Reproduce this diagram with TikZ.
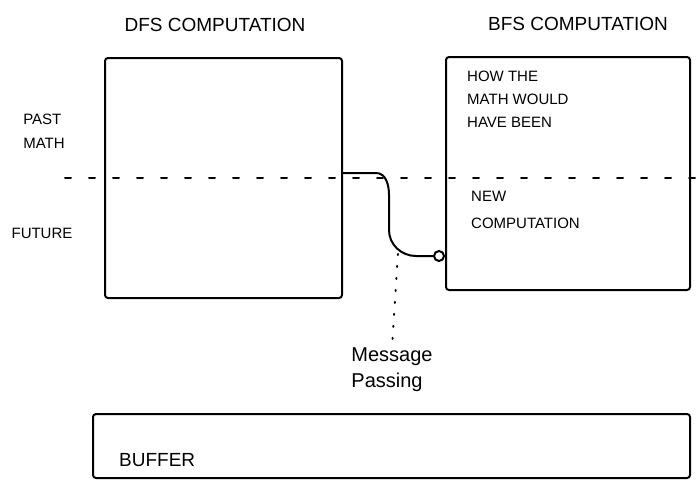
\documentclass[tikz,border=0pt]{standalone}
\usepackage{fontspec}
\setmainfont{Liberation Sans}
\usetikzlibrary{arrows.meta}
\begin{document}
\begin{tikzpicture}[x=1pt,y=-1pt,
  ink/.style={line width=2pt,line cap=round,line join=round},
  boxnode/.style={ink,draw,inner sep=0pt,rounded corners=3pt},
  lbl/.style={font=\fontsize{15}{18}\selectfont,inner sep=1pt},
  ttl/.style={font=\fontsize{19}{22}\selectfont,inner sep=1pt},
  sep/.style={line width=2pt,line cap=round,dash pattern=on 6pt off 18pt},
  msgline/.style={line width=2pt,line cap=round,dash pattern=on 1pt off 11pt}]
\useasboundingbox (0,0) rectangle (699,490);
% boxes
\node[boxnode,minimum width=237pt,minimum height=240pt] (dfs) at (223.5,178) {};
\node[boxnode,minimum width=244pt,minimum height=233pt] (bfs) at (568,173.5) {};
\node[boxnode,minimum width=597pt,minimum height=64pt] (buf) at (391.5,446) {};
% titles
\node[ttl] (dfst) at (215,25) {DFS COMPUTATION};
\node[ttl] (bfst) at (578,24) {BFS COMPUTATION};
% side labels
\node[lbl,align=left] (past) at (44,131) {PAST\\[6pt]MATH};
\node[lbl] (fut) at (42,233) {FUTURE};
% bfs texts
\node[lbl,align=left,anchor=north west] (how) at (466,70) {HOW THE\\[5pt]MATH WOULD\\[5pt]HAVE BEEN};
\node[lbl,align=left,anchor=north west] (new) at (470,190) {NEW\\[9pt]COMPUTATION};
% buffer text
\node[ttl,anchor=west] (buft) at (118,460) {BUFFER};
% message passing
\node[font=\fontsize{20}{26}\selectfont,align=left,inner sep=1pt] (msg) at (392,370) {Message\\Passing};
% separator
\coordinate (sepL) at (65,178);
\coordinate (sepR) at (699,178);
\draw[sep] (sepL) -- (sepR);
% connector
\draw[ink,-{Circle[open,length=12pt,width=12pt]}] ([yshift=5pt]dfs.east) -- ++(33,0)
  to[out=0,in=90] ++(13,22) -- ++(0,35) to[out=-90,in=180] ++(27,26) -- ([yshift=-82.5pt]bfs.west);
\coordinate (tap) at (398,254);
\draw[msgline] (tap) -- (msg.north);
\end{tikzpicture}
\end{document}
